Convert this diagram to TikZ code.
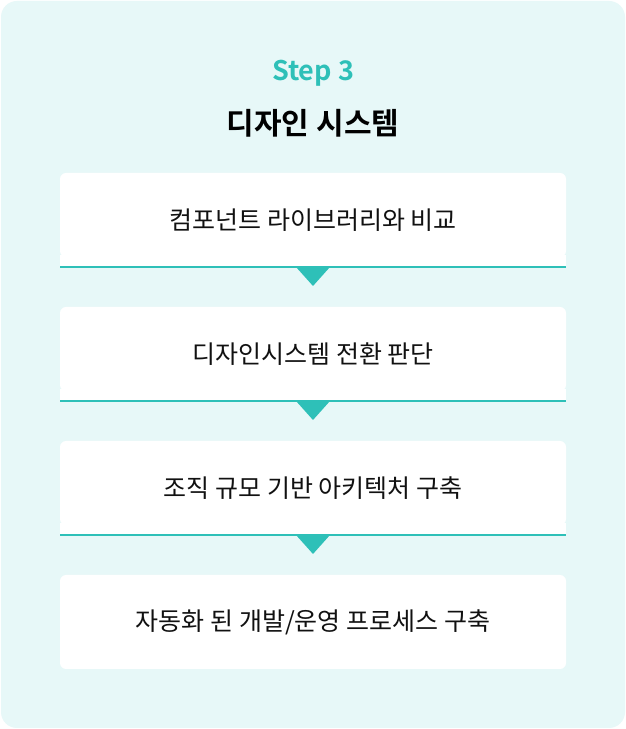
\documentclass[tikz,border=0pt]{standalone}
\usepackage{fontspec}
\newfontfamily\kr{Noto Sans CJK KR}
\newfontfamily\krb{Noto Sans CJK KR Bold}
\definecolor{bgc}{HTML}{E7F8F8}
\definecolor{teal1}{HTML}{2EC0B8}
\definecolor{txt}{HTML}{111111}
\begin{document}
\begin{tikzpicture}[x=1pt,y=1pt,
  card/.style={fill=white, draw=none},
  boxtext/.style={font=\kr\fontsize{25}{30}\selectfont, text=txt, anchor=center},
  arrowtri/.style={fill=teal1, draw=none},
  sepline/.style={draw=teal1, line width=2pt}]
\useasboundingbox (0,0) rectangle (626,729);
\fill[white] (0,0) rectangle (626,729);
\fill[bgc, rounded corners=16pt] (1,1) rectangle (625,728);
\node[font=\krb\fontsize{27}{32}\selectfont, text=teal1] (step) at (313,729-73) {Step 3};
\node[font=\krb\fontsize{30}{36}\selectfont, text=black] (title) at (313,729-123) {디자인 시스템};
% cards: top y (image) 173,307,441,575 ; height 94
\foreach \i/\t in {1/173,2/307,3/441}{
  \pgfmathsetmacro\top{729-\t}
  \pgfmathsetmacro\bot{729-\t-94}
  \fill[card, rounded corners=6pt] (60,\bot+10) rectangle (566,\top);
  \fill[card] (60,\bot) rectangle (566,\bot+12);
}
\fill[card, rounded corners=6pt] (60,729-669) rectangle (566,729-575);
\node[boxtext] (b1) at (313,729-220) {컴포넌트 라이브러리와 비교};
\node[boxtext] (b2) at (313,729-354) {디자인시스템 전환 판단};
\node[boxtext] (b3) at (313,729-488) {조직 규모 기반 아키텍처 구축};
\node[boxtext] (b4) at (313,729-622) {자동화 된 개발/운영 프로세스 구축};
\foreach \t in {267,401,535}{
  \draw[sepline] (60,729-\t) -- (566,729-\t);
  \fill[arrowtri] (296,729-\t) -- (330,729-\t) -- (313,729-\t-19) -- cycle;
}
\end{tikzpicture}
\end{document}
